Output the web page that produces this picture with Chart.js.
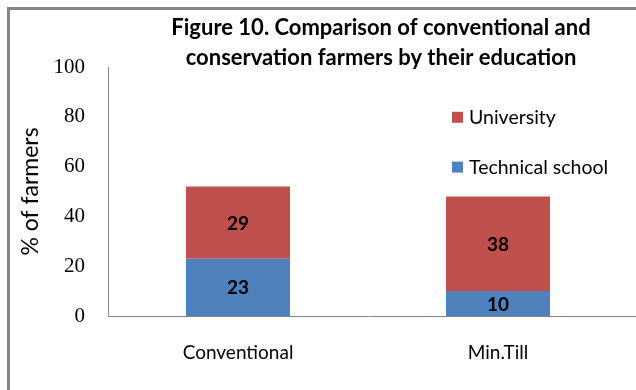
<!DOCTYPE html>
<html>
<head>
<meta charset="utf-8">
<script src="https://cdn.jsdelivr.net/npm/chart.js@4.4.1/dist/chart.umd.min.js"></script>
<style>
  html, body { margin: 0; padding: 0; background: #fff; }
  #wrap { width: 636px; height: 390px; position: relative; }
</style>
</head>
<body>
<div id="wrap"><canvas id="chart" width="636" height="390"></canvas></div>
<script>
const categories = ['Conventional', 'Min.Till'];
const technicalSchool = [23, 10];
const university = [29, 38];
const yTicks = [0, 20, 40, 60, 80, 100];
const titleLines = ['Figure 10. Comparison of conventional and', 'conservation farmers by their education'];

const sans = 'Lato, "Open Sans", sans-serif';

// frame, title, value labels and the inside legend
const decorations = {
  id: 'decorations',
  beforeDraw(chart) {
    const ctx = chart.ctx;
    ctx.save();
    ctx.fillStyle = '#fff';
    ctx.fillRect(0, 0, chart.width, chart.height);
    ctx.strokeStyle = '#868686';
    ctx.lineWidth = 3;
    ctx.beginPath();
    ctx.moveTo(8.5, chart.height);
    ctx.lineTo(8.5, 8.5);
    ctx.lineTo(chart.width, 8.5);
    ctx.stroke();
    ctx.restore();
  },
  afterDraw(chart) {
    const ctx = chart.ctx;
    const area = chart.chartArea;
    ctx.save();
    // x axis line runs on to the right edge
    ctx.strokeStyle = '#868686';
    ctx.lineWidth = 1;
    ctx.beginPath();
    ctx.moveTo(area.right, Math.round(area.bottom) + 0.5);
    ctx.lineTo(chart.width, Math.round(area.bottom) + 0.5);
    ctx.stroke();

    ctx.fillStyle = '#000';
    ctx.textAlign = 'center';
    ctx.textBaseline = 'middle';
    ctx.font = 'bold 22px ' + sans;
    titleLines.forEach((line, i) => ctx.fillText(line, 381, 28 + i * 30));

    ctx.font = 'bold 19px ' + sans;
    chart.data.datasets.forEach((ds, di) => {
      chart.getDatasetMeta(di).data.forEach((bar, i) => {
        const p = bar.getCenterPoint();
        ctx.fillText(String(ds.data[i]), p.x, p.y + 1);
      });
    });

    const y = chart.scales.y;
    const legendItems = [[university, 1, 80], [technicalSchool, 0, 60]];
    ctx.font = '19.5px ' + sans;
    ctx.textAlign = 'left';
    legendItems.forEach(([, di, at]) => {
      const ds = chart.data.datasets[di];
      const ly = y.getPixelForValue(at);
      ctx.fillStyle = ds.backgroundColor;
      ctx.fillRect(452, ly - 5, 11, 11);
      ctx.fillStyle = '#000';
      ctx.fillText(ds.label, 469, ly + 1);
    });
    ctx.restore();
  }
};

new Chart(document.getElementById('chart'), {
  type: 'bar',
  data: {
    labels: categories,
    datasets: [
      { label: 'Technical school', data: technicalSchool, backgroundColor: '#4F81BD' },
      { label: 'University', data: university, backgroundColor: '#C0504D' }
    ]
  },
  options: {
    responsive: false,
    animation: false,
    layout: { padding: { left: 10, right: 8, top: 67, bottom: 0 } },
    datasets: { bar: { categoryPercentage: 1, barPercentage: 0.4 } },
    plugins: { legend: { display: false }, title: { display: false }, tooltip: { enabled: false } },
    scales: {
      x: {
        stacked: true,
        grid: { display: false, drawTicks: false },
        border: { color: '#868686', width: 1 },
        ticks: { color: '#000', font: { family: sans, size: 19 }, padding: 25 },
        afterFit(scale) { scale.height = 74; }
      },
      y: {
        stacked: true,
        min: 0,
        max: 100,
        afterBuildTicks(scale) { scale.ticks = yTicks.map(v => ({ value: v })); },
        grid: { display: false, drawTicks: false },
        border: { color: '#868686', width: 1 },
        ticks: { color: '#000', font: { family: '"Liberation Serif", serif', size: 21 }, padding: 23 },
        title: { display: true, text: '% of farmers', color: '#000', font: { family: sans, size: 23 }, padding: { top: 7, bottom: 0 } },
        afterFit(scale) { scale.width = 98; }
      }
    }
  },
  plugins: [decorations]
});
</script>
</body>
</html>
